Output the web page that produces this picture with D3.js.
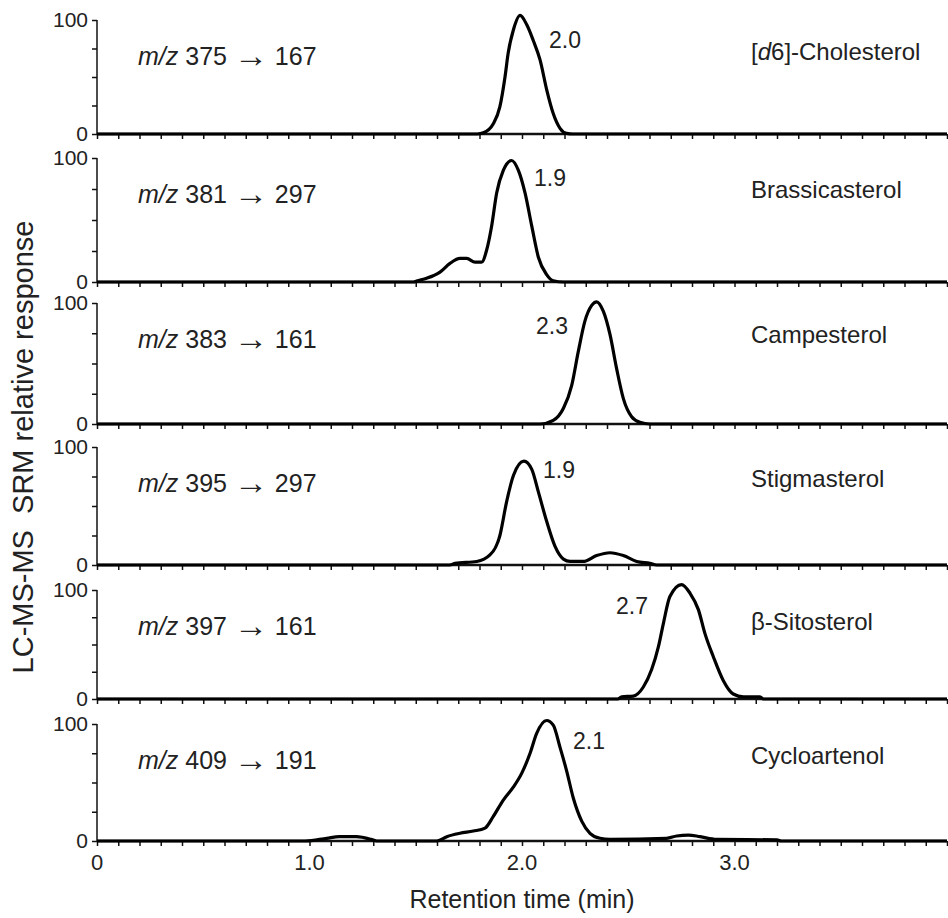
<!DOCTYPE html>
<html>
<head>
<meta charset="utf-8">
<script src="https://cdn.jsdelivr.net/npm/d3@7"></script>
<style>
  body { margin: 0; background: #fff; }
  svg text { font-family: "Liberation Sans", Arial, sans-serif; fill: #222; }
</style>
</head>
<body>
<svg id="chart" width="948" height="918"></svg>
<script>
// Panel labels
const compounds = ["[d6]-Cholesterol", "Brassicasterol", "Campesterol", "Stigmasterol", "\u03B2-Sitosterol", "Cycloartenol"];
const precursors = ["375", "381", "383", "395", "397", "409"];
const products = ["167", "297", "161", "297", "161", "191"];
const peakLabels = ["2.0", "1.9", "2.3", "1.9", "2.7", "2.1"];

// Tick labels
const xTickLabels = [0, 1.0, 2.0, 3.0];
const yTickValues = [0, 25, 50, 75, 100];

// Traces, [retention time (min), relative response]
const cholesterolD6 = [
  [0, 0], [1.79, 0], [1.818, 1], [1.865, 9], [1.896, 24], [1.92, 50], [1.935, 71],
  [1.959, 91], [1.991, 104], [2.022, 96], [2.053, 82], [2.085, 65], [2.116, 39],
  [2.147, 18], [2.179, 5], [2.21, 0.5], [2.24, 0], [4.0, 0]
];
const brassicasterol = [
  [0, 0], [1.49, 0], [1.504, 0.8], [1.551, 3], [1.614, 8], [1.661, 15], [1.708, 19],
  [1.74, 19], [1.779, 16], [1.81, 16], [1.834, 26], [1.857, 45], [1.881, 72],
  [1.912, 90], [1.951, 98], [1.983, 90], [2.014, 72], [2.046, 45], [2.077, 20],
  [2.116, 6], [2.147, 1], [2.195, 0], [4.0, 0]
];
const campesterol = [
  [0, 0], [2.085, 0], [2.147, 3], [2.195, 13], [2.234, 32], [2.265, 60], [2.296, 85],
  [2.328, 98], [2.351, 101], [2.383, 93], [2.414, 74], [2.445, 46], [2.477, 21],
  [2.516, 6], [2.555, 1.4], [2.602, 0], [4.0, 0]
];
const stigmasterol = [
  [0, 0], [1.66, 0], [1.685, 1.4], [1.787, 3], [1.849, 8.5], [1.896, 25], [1.928, 54],
  [1.96, 76], [2.009, 88], [2.046, 81], [2.077, 62], [2.116, 37], [2.155, 16],
  [2.195, 5], [2.226, 3], [2.288, 3], [2.351, 8], [2.414, 10.4], [2.477, 8],
  [2.54, 3], [2.602, 1.4], [2.634, 0], [4.0, 0]
];
const sitosterol = [
  [0, 0], [2.45, 0], [2.469, 2], [2.524, 2.7], [2.571, 11], [2.61, 27], [2.642, 48],
  [2.665, 69], [2.696, 94], [2.751, 105], [2.791, 97], [2.83, 82], [2.861, 60],
  [2.9, 39], [2.947, 17], [2.994, 4.6], [3.042, 2], [3.12, 2], [3.136, 0], [4.0, 0]
];
const cycloartenol = [
  [0, 0], [0.98, 0], [1.081, 2.3], [1.14, 3.7], [1.22, 3.7], [1.29, 1.4], [1.316, 0],
  [1.6, 0], [1.646, 3.7], [1.708, 6.6], [1.771, 8.5], [1.826, 11], [1.865, 21],
  [1.912, 35], [1.959, 46], [1.999, 58], [2.038, 75], [2.069, 92], [2.116, 103],
  [2.147, 99], [2.179, 80], [2.21, 60], [2.241, 37], [2.281, 17], [2.32, 6.6],
  [2.367, 2.3], [2.414, 1.4], [2.68, 2.3], [2.728, 4.3], [2.783, 5.1], [2.838, 3.7],
  [2.916, 1.4], [3.2, 1], [3.22, 0], [4.0, 0]
];
const traces = [cholesterolD6, brassicasterol, campesterol, stigmasterol, sitosterol, cycloartenol];

// Layout
const panelTop = [20, 158, 303, 447, 590, 724];
const panelBase = [134, 282, 424, 565, 699, 841];
const peakLabelPos = [[565, 40], [550, 178], [552, 326], [559, 470], [632, 606], [589, 741]];
const left = 97, right = 947;

const svg = d3.select("#chart");

const x = d3.scaleLinear()
    .domain([0, 4.0])
    .range([left, right]);

const line = d3.line()
    .x(d => x(d[0]))
    .curve(d3.curveMonotoneX);

traces.forEach((trace, i) => {
  const y = d3.scaleLinear()
      .domain([0, 100])
      .range([panelBase[i], panelTop[i]]);

  const g = svg.append("g");

  // Minor x ticks every 0.1 min
  g.append("g")
      .attr("transform", `translate(0,${panelBase[i]})`)
      .call(d3.axisBottom(x)
          .tickValues(d3.range(0, 4.01, 0.1))
          .tickSize(5)
          .tickFormat(""))
      .call(a => a.select(".domain").remove())
      .selectAll("line")
      .attr("stroke", "#111")
      .attr("stroke-width", 1.5);

  // Baseline
  g.append("line")
      .attr("x1", left).attr("x2", right)
      .attr("y1", panelBase[i]).attr("y2", panelBase[i])
      .attr("stroke", "#111")
      .attr("stroke-width", 2.5);

  // Y axis
  g.append("g")
      .attr("transform", `translate(${left},0)`)
      .call(d3.axisLeft(y)
          .tickValues(yTickValues)
          .tickSize(5)
          .tickPadding(4)
          .tickFormat(d => (d === 0 || d === 100) ? d : ""))
      .call(a => a.select(".domain")
          .attr("stroke", "#111")
          .attr("stroke-width", 1.5)
          .attr("d", `M0,${y(100)}V${y(0)}`))
      .call(a => a.selectAll("line").attr("stroke", "#111").attr("stroke-width", 1.5))
      .call(a => a.selectAll("text")
          .style("font-size", "21px")
          .attr("fill", "#222"));

  // Trace
  g.append("path")
      .datum(trace)
      .attr("fill", "none")
      .attr("stroke", "#000")
      .attr("stroke-width", 3.2)
      .attr("stroke-linejoin", "round")
      .attr("d", line.y(d => y(d[1])));

  // m/z transition
  const mz = g.append("text")
      .attr("x", 138)
      .attr("y", panelTop[i] + 45)
      .style("font-size", "25px");
  mz.append("tspan").style("font-style", "italic").text("m/z");
  mz.append("tspan").text(" " + precursors[i] + " ");
  mz.append("tspan")
      .style("font-size", "34px")
      .attr("dy", "2")
      .text("\u2192");
  mz.append("tspan").attr("dy", "-2").text(" " + products[i]);

  // Compound name
  const name = g.append("text")
      .attr("x", 751)
      .attr("y", panelTop[i] + 40)
      .style("font-size", "24px");
  if (i === 0) {
    name.append("tspan").text("[");
    name.append("tspan").style("font-style", "italic").text("d");
    name.append("tspan").text("6]-Cholesterol");
  } else {
    name.text(compounds[i]);
  }

  // Peak retention time
  g.append("text")
      .attr("x", peakLabelPos[i][0])
      .attr("y", peakLabelPos[i][1])
      .attr("dy", "0.35em")
      .attr("text-anchor", "middle")
      .style("font-size", "23px")
      .text(peakLabels[i]);
});

// Bottom tick labels
svg.append("g")
    .selectAll("text")
    .data(xTickLabels)
    .enter()
    .append("text")
    .attr("x", d => x(d))
    .attr("y", 870)
    .attr("text-anchor", "middle")
    .style("font-size", "22px")
    .text(d => d === 0 ? "0" : d.toFixed(1));

// Axis titles
svg.append("text")
    .attr("x", x(2.0))
    .attr("y", 908)
    .attr("text-anchor", "middle")
    .style("font-size", "25px")
    .text("Retention time (min)");

svg.append("text")
    .attr("transform", "translate(33,447) rotate(-90)")
    .attr("text-anchor", "middle")
    .style("font-size", "29px")
    .style("white-space", "pre")
    .text("LC-MS-MS  SRM relative response");
</script>
</body>
</html>
